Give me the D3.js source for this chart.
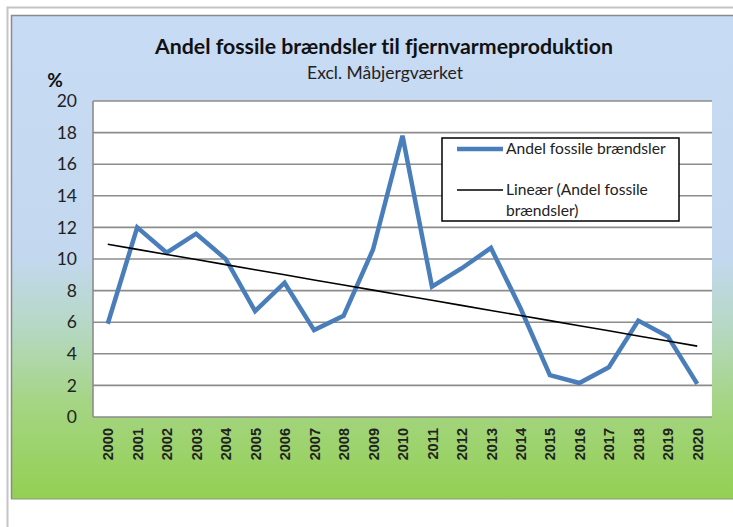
<!DOCTYPE html>
<html><head><meta charset="utf-8">
<script src="https://cdn.jsdelivr.net/npm/d3@7"></script>
<style>body{margin:0;background:#fff}svg{display:block}text{font-variant-ligatures:none;font-feature-settings:"liga" 0}</style>
</head><body>
<script>
const years = ["2000","2001","2002","2003","2004","2005","2006","2007","2008","2009","2010","2011","2012","2013","2014","2015","2016","2017","2018","2019","2020"];
const shareFossil = [5.9,12.0,10.4,11.6,10.0,6.7,8.5,5.5,6.4,10.6,17.8,8.25,9.4,10.7,6.9,2.65,2.15,3.15,6.1,5.1,2.1];
const yTicks = [0,2,4,6,8,10,12,14,16,18,20];
const title = "Andel fossile brændsler til fjernvarmeproduktion";
const subtitle = "Excl. Måbjergværket";
const legendLabels = ["Andel fossile brændsler", ["Lineær (Andel fossile", "brændsler)"]];

const W = 733, H = 527;
const svg = d3.select("body").append("svg").attr("width", W).attr("height", H);
const defs = svg.append("defs");
const grad = defs.append("linearGradient").attr("id","bg").attr("x1",0).attr("y1",0).attr("x2",0).attr("y2",1);
[[0,"#c8dbf4"],[0.5,"#c3d8ef"],[0.64,"#b6d8c6"],[0.8,"#a5d584"],[1,"#93d052"]].forEach(s=>grad.append("stop").attr("offset",s[0]).attr("stop-color",s[1]));

// outer frame
svg.append("path").attr("d","M7.5,527 V7.5 H733").attr("fill","none").attr("stroke","#c4c4c4").attr("stroke-width",2);
// chart box
svg.append("rect").attr("x",11).attr("y",15).attr("width",W-11).attr("height",484).attr("fill","url(#bg)");
svg.append("path").attr("d","M11.5,499 V15.5 H733").attr("fill","none").attr("stroke","#8a8a8a").attr("stroke-width",1.5);
svg.append("line").attr("x1",11).attr("x2",W).attr("y1",499).attr("y2",499).attr("stroke","#8a9a80").attr("stroke-width",1);

const m = {l:93, r:712, t:101, b:417};
const x = d3.scalePoint().domain(years).range([m.l, m.r]).padding(0.5);
const y = d3.scaleLinear().domain([0,20]).range([m.b, m.t]);

svg.append("rect").attr("x",m.l).attr("y",m.t).attr("width",m.r-m.l).attr("height",m.b-m.t).attr("fill","#fff");

// gridlines
svg.append("g").selectAll("line").data(yTicks).join("line")
  .attr("x1",m.l).attr("x2",m.r).attr("y1",d=>y(d)).attr("y2",d=>y(d))
  .attr("stroke","#8c8c8c").attr("stroke-width",1.6);
svg.append("line").attr("x1",m.l).attr("x2",m.l).attr("y1",m.t).attr("y2",m.b).attr("stroke","#8c8c8c").attr("stroke-width",1.6);

const lf = "Lato, 'Open Sans', sans-serif";

// y axis labels
const yAxis = d3.axisLeft(y).tickValues(yTicks).tickSize(0).tickPadding(16);
const ga = svg.append("g").attr("transform",`translate(${m.l},0)`).call(yAxis);
ga.select(".domain").remove();
ga.selectAll("text").attr("font-family",lf).attr("font-size",17.5).attr("fill","#222");

// x axis labels
const xAxis = d3.axisBottom(x).tickSize(0).tickPadding(0);
const gx = svg.append("g").attr("transform",`translate(0,${m.b})`).call(xAxis);
gx.select(".domain").remove();
gx.selectAll("text").attr("font-family","'Liberation Sans', Arial, sans-serif").attr("font-weight","bold")
  .attr("font-size",14.5).attr("fill","#222")
  .attr("transform","rotate(-90)").attr("text-anchor","end")
  .attr("x",-11).attr("y",0).attr("dy","0.35em");

// data line
const line = d3.line().x((d,i)=>x(years[i])).y(d=>y(d));
svg.append("path").datum(shareFossil).attr("d",line).attr("fill","none")
  .attr("stroke","#4a7ebb").attr("stroke-width",4.5).attr("stroke-linejoin","miter");

// linear trend (least squares)
const n = shareFossil.length;
const xs = d3.range(n);
const mx = d3.mean(xs), my = d3.mean(shareFossil);
const slope = d3.sum(xs,(i)=>(i-mx)*(shareFossil[i]-my)) / d3.sum(xs,i=>(i-mx)*(i-mx));
const icpt = my - slope*mx;
const trend = xs.map(i=>icpt+slope*i);
svg.append("path").datum(trend).attr("d",line).attr("fill","none").attr("stroke","#000").attr("stroke-width",1.6);

// legend
const lg = svg.append("g");
lg.append("rect").attr("x",442).attr("y",138).attr("width",237).attr("height",83).attr("fill","#fff").attr("stroke","#000").attr("stroke-width",1.5);
lg.append("line").attr("x1",457).attr("x2",503).attr("y1",149).attr("y2",149).attr("stroke","#4a7ebb").attr("stroke-width",4.5);
lg.append("line").attr("x1",457).attr("x2",503).attr("y1",190).attr("y2",190).attr("stroke","#000").attr("stroke-width",1.6);
lg.append("text").attr("x",506).attr("y",149).attr("dy","0.35em").attr("font-family",lf).attr("font-size",15.6).attr("fill","#222").text(legendLabels[0]);
lg.append("text").attr("x",506).attr("y",190).attr("dy","0.35em").attr("font-family",lf).attr("font-size",15.6).attr("fill","#222").text(legendLabels[1][0]);
lg.append("text").attr("x",506).attr("y",211).attr("dy","0.35em").attr("font-family",lf).attr("font-size",15.6).attr("fill","#222").text(legendLabels[1][1]);

// titles
svg.append("text").attr("x",384).attr("y",47).attr("dy","0.35em").attr("text-anchor","middle")
  .attr("font-family",lf).attr("font-weight","bold").attr("font-size",21.3).attr("fill","#111").text(title);
svg.append("text").attr("x",385).attr("y",73).attr("dy","0.35em").attr("text-anchor","middle")
  .attr("font-family",lf).attr("font-size",17.5).attr("fill","#222").text(subtitle);
svg.append("text").attr("x",55).attr("y",80).attr("dy","0.35em").attr("text-anchor","middle")
  .attr("font-family",lf).attr("font-weight","bold").attr("font-size",19).attr("fill","#111").text("%");
</script>
</body></html>
